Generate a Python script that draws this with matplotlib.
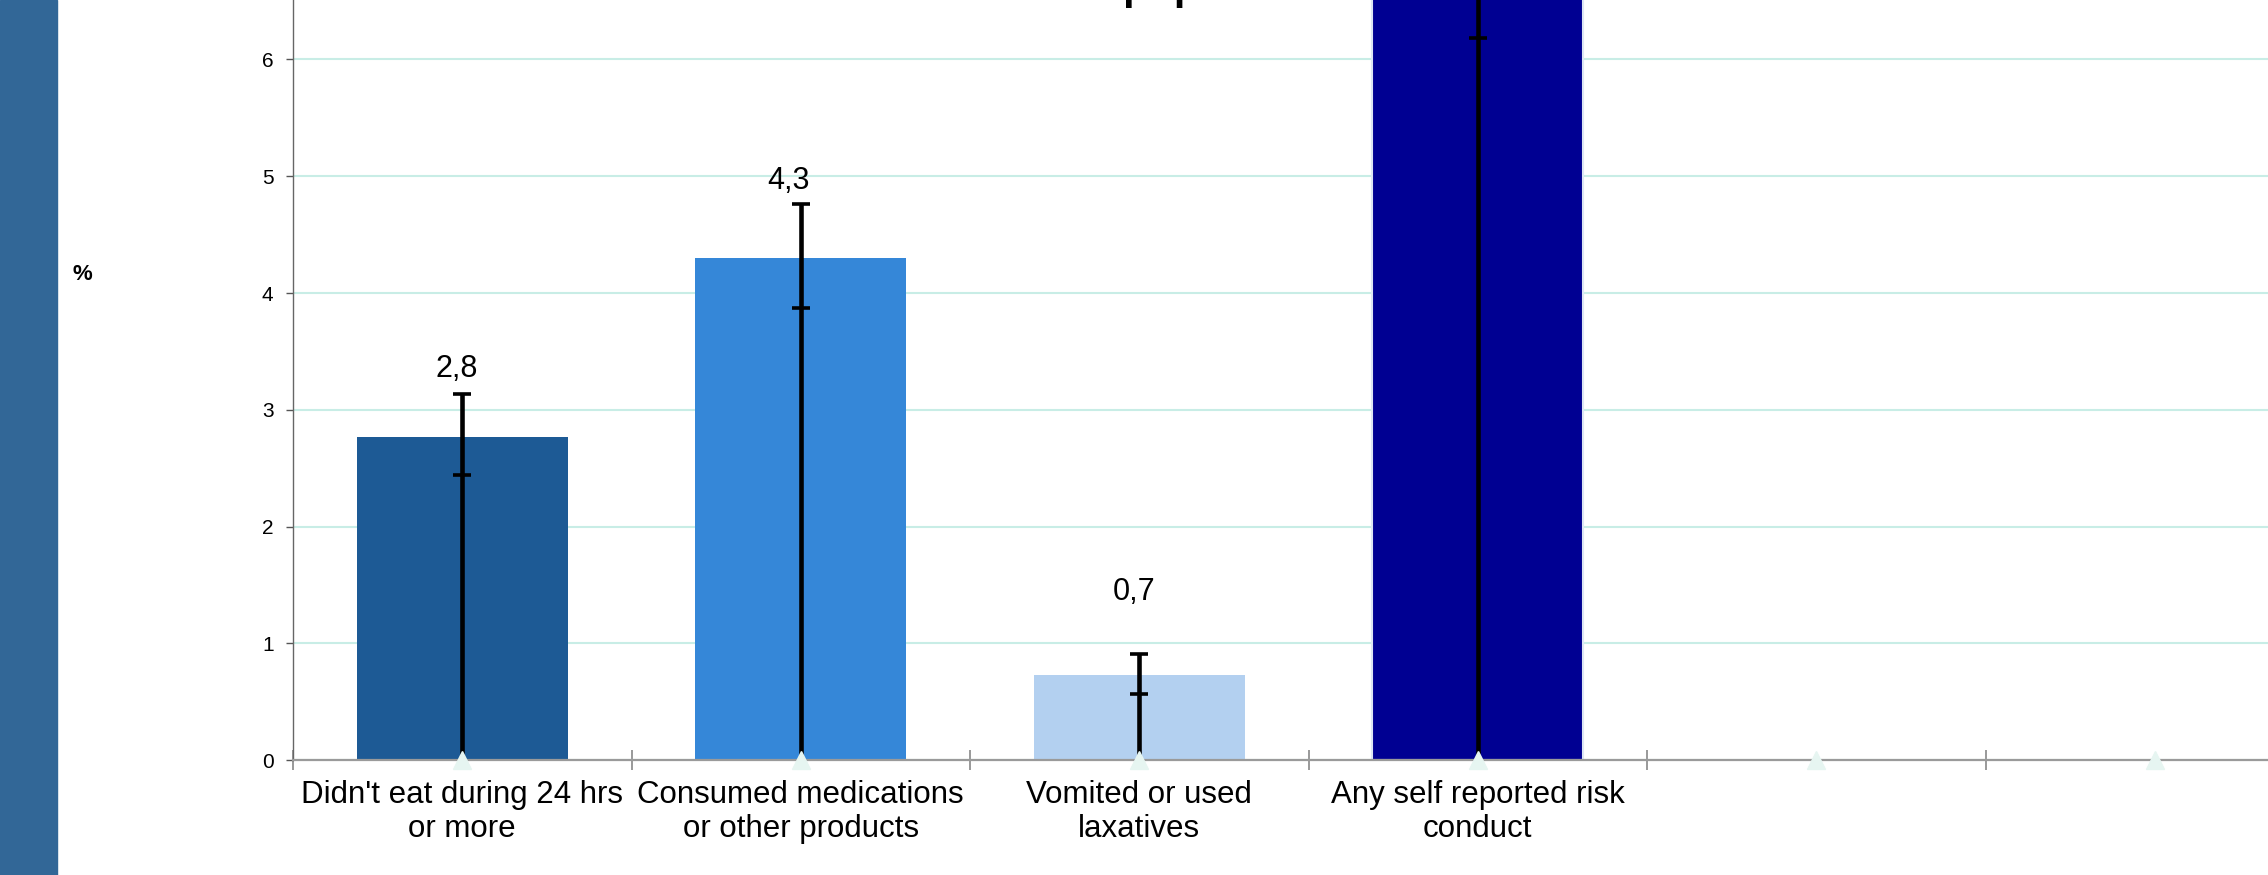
import matplotlib as mpl
import matplotlib.pyplot as plt
from matplotlib.patches import Rectangle
import numpy as np

mpl.rcParams["font.family"] = ["Liberation Sans", "DejaVu Sans"]

# Chart data
categories = ["Didn't eat during 24 hrs\nor more",
              "Consumed medications\nor other products",
              "Vomited or used\nlaxatives",
              "Any self reported risk\nconduct",
              "", ""]
values = [2.77, 4.30, 0.73, 6.70]
ci_low = [2.44, 3.87, 0.565, 6.18]
ci_high = [3.14, 4.76, 0.91, 7.25]
value_labels = ["2,8", "4,3", "0,7", "6,7"]
y_ticks = [0, 1, 2, 3, 4, 5, 6]

bar_colors = ["#1d5a95", "#3587d8", "#b3d0f0", "#000092"]
bar_edges = ["none", "none", "none", "#dde6f4"]
label_gap = [0.58, 0.66, 0.71, 0.67]
label_dx = [-4, -9, -4, -4]

W, H = 2268, 875
fig = plt.figure(figsize=(W / 100, H / 100), dpi=100)

# left blue strip
fig.patches.append(Rectangle((0, 0), 57 / W, 1, transform=fig.transFigure,
                             color="#326797", zorder=0))

ax = fig.add_axes([293 / W, 1 - 760.3 / H, 1 - 293 / W, 760.3 / H])
x = np.arange(len(categories))
n = len(values)

ax.bar(x[:n], values, width=0.623, color=bar_colors, edgecolor=bar_edges,
       linewidth=1.5, zorder=2)

# error bars: line from the base to the upper bound, caps at both bounds
ax.vlines(x[:n], 0, ci_high, color="black", lw=3.3, zorder=3)
ax.hlines(ci_low, x[:n] - 0.027, x[:n] + 0.027, color="black", lw=2.6, zorder=3)
ax.hlines(ci_high, x[:n] - 0.027, x[:n] + 0.027, color="black", lw=2.6, zorder=3)

# hidden series markers at zero
ax.plot(x, np.zeros(len(x)), "^", ms=13, color="#e6f5f1", zorder=5,
        clip_on=False)

for xi, v, g, dx, lab in zip(x[:n], values, label_gap, label_dx, value_labels):
    ax.annotate(lab, (xi, v + g), xytext=(dx, 0), textcoords="offset points",
                ha="center", va="center", fontsize=22)

ax.spines["top"].set_visible(False)
ax.spines["right"].set_visible(False)
ax.spines["left"].set_color("#666666")
ax.spines["left"].set_linewidth(1.0)
ax.spines["bottom"].set_color("#9a9a9a")
ax.spines["bottom"].set_linewidth(1.6)

ax.set_yticks(y_ticks)
ax.tick_params(axis="y", length=5, width=1, color="#555555", pad=9,
               labelsize=15)
ax.yaxis.grid(True, color="#c8ede6", lw=1.5)
ax.set_axisbelow(True)

ax.set_xticks(x)
ax.set_xticklabels(categories, fontsize=22.5, linespacing=1.2)
ax.tick_params(axis="x", which="major", length=0, pad=14)
ax.set_xticks(np.arange(-0.5, len(categories)), minor=True)
ax.tick_params(axis="x", which="minor", direction="inout", length=14,
               width=1.2, color="#888888")

# limits last, set_xticks may widen them
ax.set_xlim(-0.5, 5.334)
ax.set_ylim(0, 6.509)

fig.text(82 / W, 1 - 275 / H, "%", fontsize=16, fontweight="bold",
         ha="center", va="center")
# title sits above the visible crop, only its lowest pixels show
fig.text(1015 / W, 1 + 1 / H, "Total population", fontsize=30,
         fontweight="bold", ha="left", va="baseline")

fig.savefig("out.png", dpi=100)
